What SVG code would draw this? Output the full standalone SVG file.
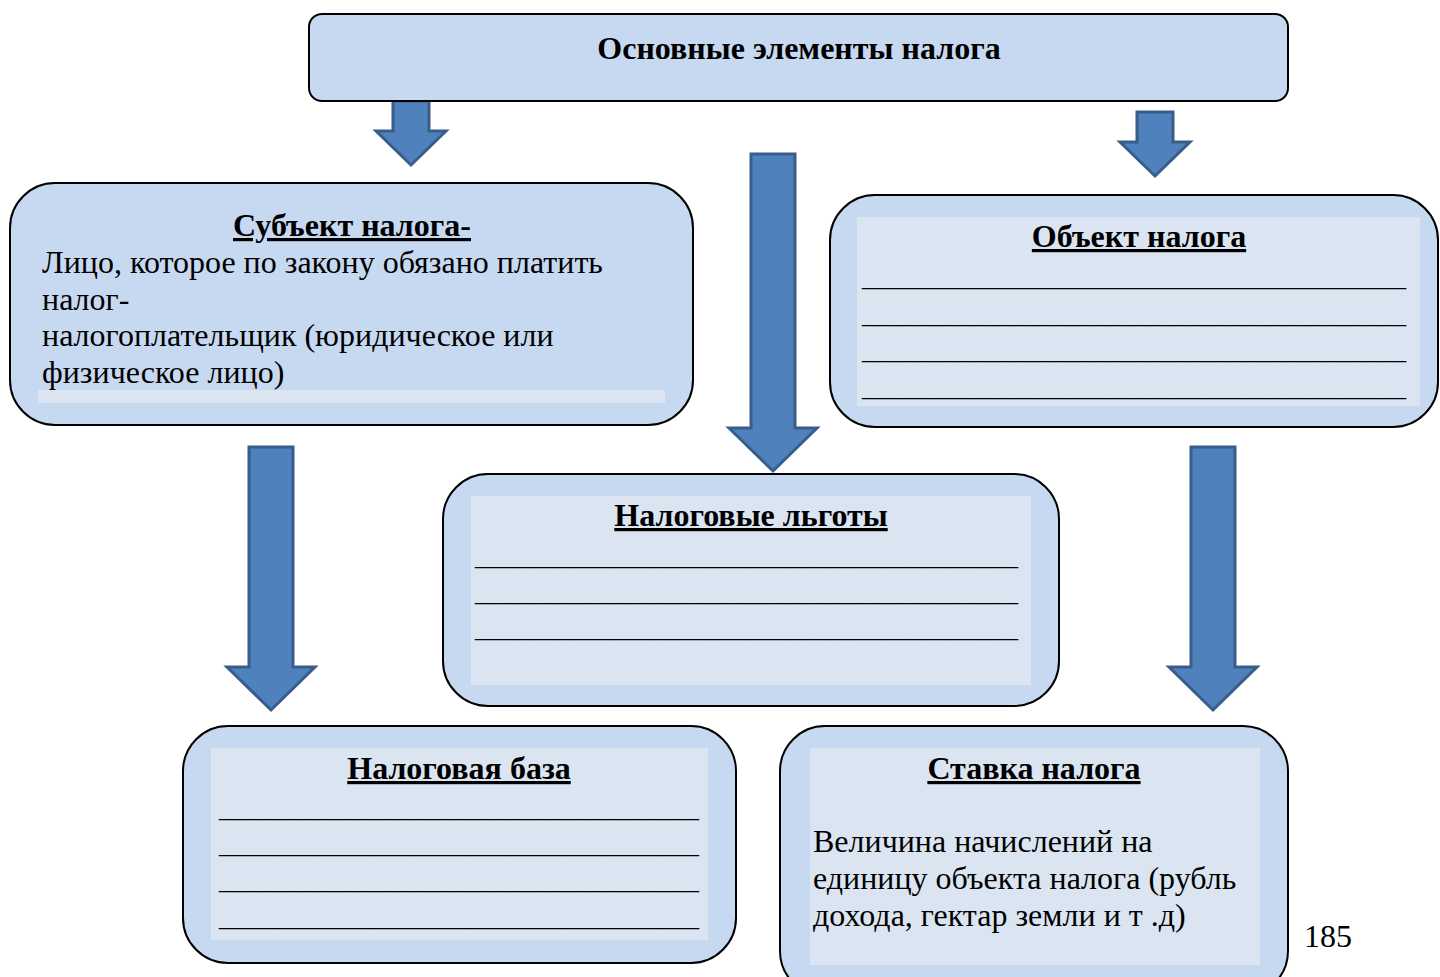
<svg xmlns="http://www.w3.org/2000/svg" width="1440" height="977" viewBox="0 0 1440 977">
<style>
.box{fill:#c6d9f1;stroke:#000;stroke-width:2}
.inner{fill:#dbe5f1}
.arrow{fill:#4f81bd;stroke:#385d8a;stroke-width:3;stroke-linejoin:miter}
.t{font-family:"Liberation Serif","Times New Roman",serif;font-size:32px;fill:#000}
.h{font-family:"Liberation Serif","Times New Roman",serif;font-size:32px;font-weight:bold;fill:#000;text-anchor:middle}
.u{text-decoration:underline}
.ln{font-family:"Liberation Serif","Times New Roman",serif;font-size:27px;fill:#000}
</style>
<rect width="1440" height="977" fill="#fff"/>
<g id="connectors">
<polygon class="arrow" points="393,101 429,101 429,131 446,131 411,165 376,131 393,131"/>
<polygon class="arrow" points="1137,112 1173,112 1173,142 1190,142 1155,176 1120,142 1137,142"/>
<polygon class="arrow" points="751,154 795,154 795,428 817,428 773,471 729,428 751,428"/>
<polygon class="arrow" points="249,447 293,447 293,667 315,667 271,710 227,667 249,667"/>
<polygon class="arrow" points="1191,447 1235,447 1235,667 1257,667 1213,710 1169,667 1191,667"/>
</g>
<g id="main">
<rect class="box" x="309" y="14" width="979" height="87" rx="13"/>
<text class="h" x="799" y="59">Основные элементы налога</text>
</g>
<g id="subject">
<rect class="box" x="10" y="183" width="683" height="242" rx="45"/>
<rect class="inner" x="38" y="390" width="627" height="13"/>
<text class="h u" x="352" y="236">Субъект налога-</text>
<text class="t" x="42" y="273">Лицо, которое по закону обязано платить</text>
<text class="t" x="42" y="310">налог-</text>
<text class="t" x="42" y="346">налогоплательщик (юридическое или</text>
<text class="t" x="42" y="383">физическое лицо)</text>
</g>
<g id="object">
<rect class="box" x="830" y="195" width="608" height="232" rx="45"/>
<rect class="inner" x="857" y="217" width="563" height="189"/>
<text class="h u" x="1139" y="247">Объект налога</text>
<text class="ln" x="862" y="286" textLength="544" lengthAdjust="spacingAndGlyphs">________________________________________</text>
<text class="ln" x="862" y="323" textLength="544" lengthAdjust="spacingAndGlyphs">________________________________________</text>
<text class="ln" x="862" y="359" textLength="544" lengthAdjust="spacingAndGlyphs">________________________________________</text>
<text class="ln" x="862" y="396" textLength="544" lengthAdjust="spacingAndGlyphs">________________________________________</text>
</g>
<g id="benefits">
<rect class="box" x="443" y="474" width="616" height="232" rx="45"/>
<rect class="inner" x="471" y="496" width="560" height="189"/>
<text class="h u" x="751" y="526">Налоговые льготы</text>
<text class="ln" x="475" y="565" textLength="543" lengthAdjust="spacingAndGlyphs">________________________________________</text>
<text class="ln" x="475" y="601" textLength="543" lengthAdjust="spacingAndGlyphs">________________________________________</text>
<text class="ln" x="475" y="637" textLength="543" lengthAdjust="spacingAndGlyphs">________________________________________</text>
</g>
<g id="base">
<rect class="box" x="183" y="726" width="553" height="237" rx="45"/>
<rect class="inner" x="211" y="748" width="497" height="192"/>
<text class="h u" x="459" y="779">Налоговая база</text>
<text class="ln" x="219" y="817" textLength="480" lengthAdjust="spacingAndGlyphs">___________________________________</text>
<text class="ln" x="219" y="853" textLength="480" lengthAdjust="spacingAndGlyphs">___________________________________</text>
<text class="ln" x="219" y="889" textLength="480" lengthAdjust="spacingAndGlyphs">___________________________________</text>
<text class="ln" x="219" y="926" textLength="480" lengthAdjust="spacingAndGlyphs">___________________________________</text>
</g>
<g id="rate">
<rect class="box" x="780" y="726" width="508" height="270" rx="45"/>
<rect class="inner" x="810" y="748" width="450" height="217"/>
<text class="h u" x="1034" y="779">Ставка налога</text>
<text class="t" x="813" y="852">Величина начислений на</text>
<text class="t" x="813" y="889">единицу объекта налога (рубль</text>
<text class="t" x="813" y="926">дохода, гектар земли и т .д)</text>
</g>
<g id="page">
<text class="t" x="1304" y="947">185</text>
</g>
</svg>
